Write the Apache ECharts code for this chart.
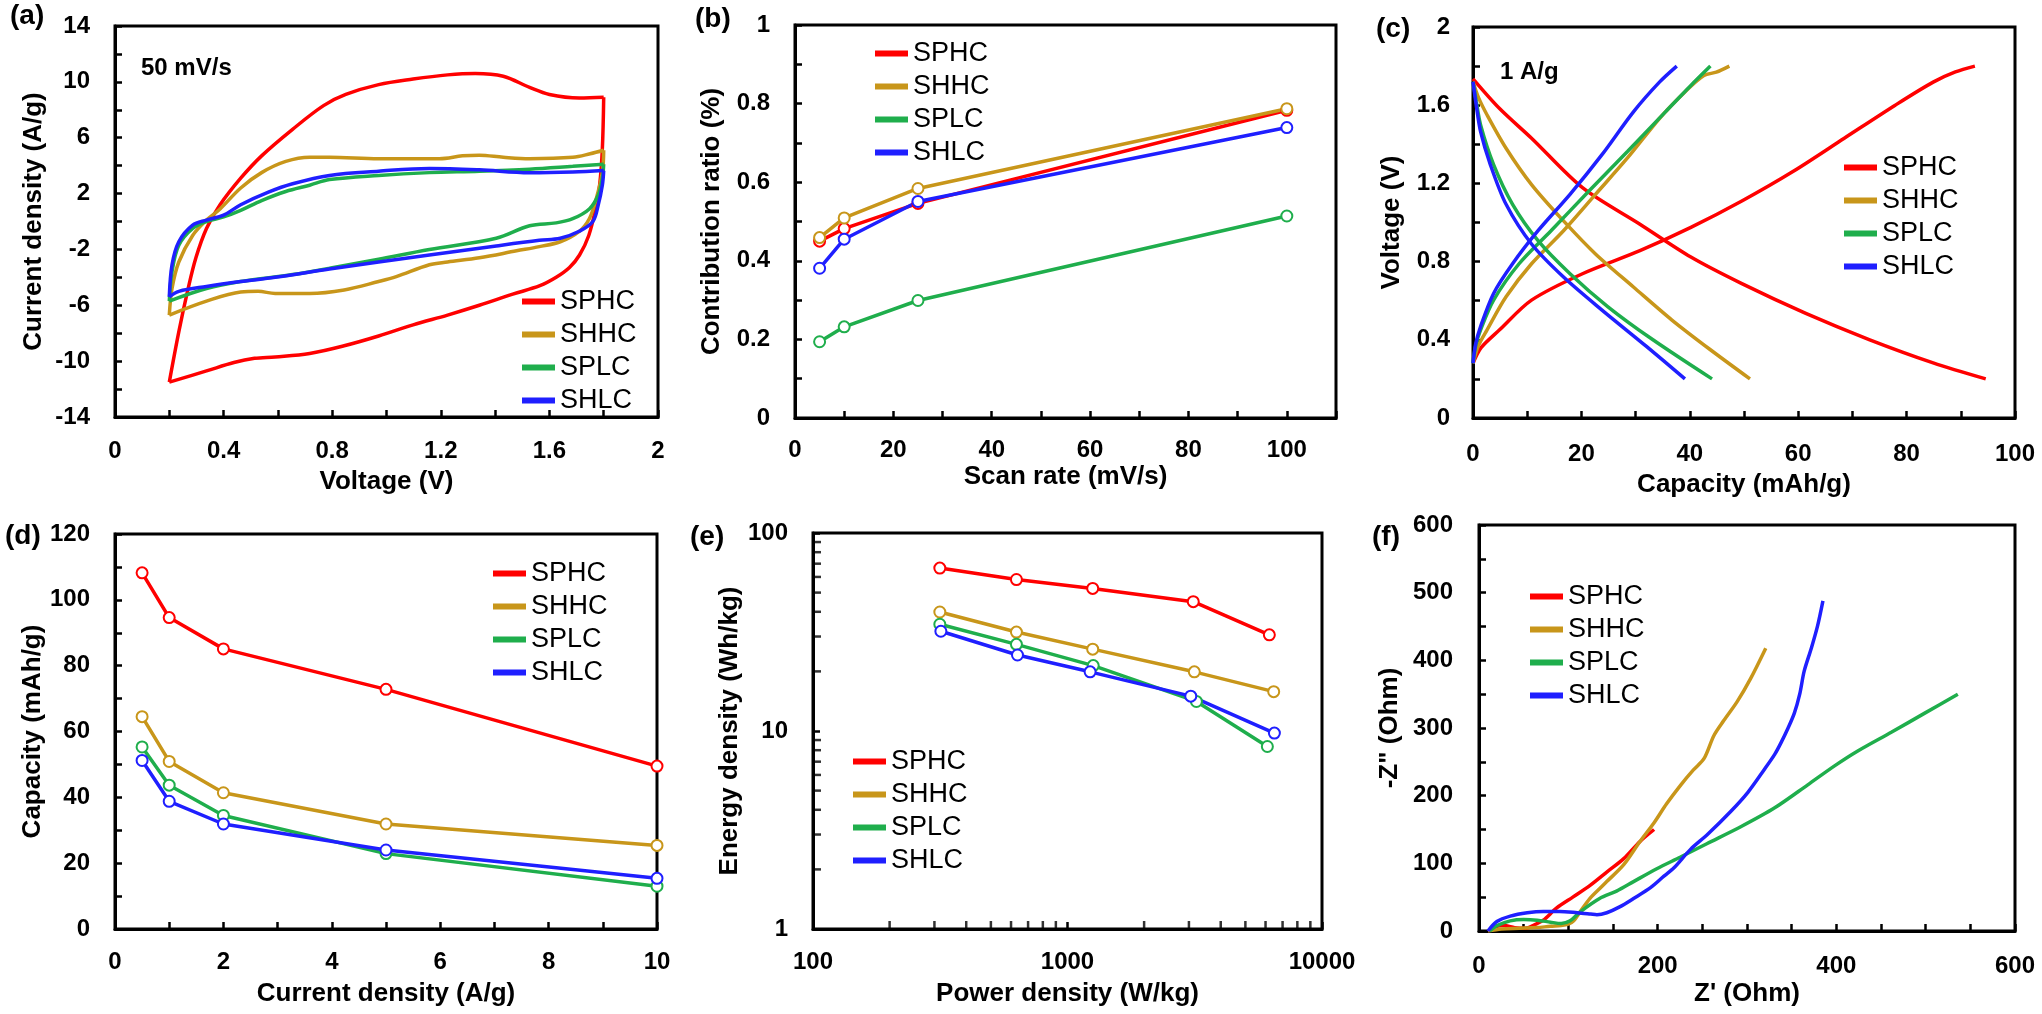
<!DOCTYPE html>
<html lang="en">
<head>
<meta charset="UTF-8">
<title>Carbon electrode comparison</title>
<script src="https://cdn.jsdelivr.net/npm/echarts@6/dist/echarts.min.js"></script>
<style>body{margin:0;background:#fff;}</style>
</head>
<body>
<div id="main" style="width:2042px;height:1014px;"></div>
<script type="text/javascript">
let names = ['SPHC', 'SHHC', 'SPLC', 'SHLC'];
let colors = ['#ff0000', '#c8961a', '#1fae4c', '#1f1fff'];

// (a) CV at 50 mV/s : [voltage V, current density A/g], forward sweep then back
let cvSPHC = [[0.2,-11.5],[0.235,-7.9],[0.267,-5.0],[0.298,-2.6],[0.337,-0.5],[0.387,1.2],[0.463,3.1],[0.54,4.7],[0.654,6.6],[0.768,8.3],[0.85,9.1],[0.971,9.8],[1.098,10.2],[1.225,10.5],[1.327,10.6],[1.43,10.4],[1.527,9.6],[1.6,9.1],[1.71,8.85],[1.8,8.9],
    [1.795,5.2],[1.785,2.6],[1.77,0.9],[1.745,-1.0],[1.711,-2.4],[1.674,-3.3],[1.625,-4.0],[1.565,-4.6],[1.465,-5.2],[1.342,-6.0],[1.225,-6.7],[1.098,-7.4],[0.971,-8.2],[0.844,-8.9],[0.717,-9.45],[0.59,-9.7],[0.514,-9.8],[0.438,-10.1],[0.337,-10.7],[0.2,-11.5]];
let cvSHHC = [[0.2,-6.7],[0.21,-4.8],[0.235,-2.9],[0.286,-1.0],[0.337,0.1],[0.387,0.9],[0.463,2.4],[0.54,3.5],[0.629,4.3],[0.717,4.6],[0.79,4.6],[0.971,4.5],[1.195,4.5],[1.28,4.7],[1.342,4.75],[1.43,4.6],[1.527,4.5],[1.686,4.6],[1.75,4.85],[1.8,5.1],
    [1.795,3.5],[1.772,1.6],[1.747,0.2],[1.71,-0.7],[1.64,-1.45],[1.563,-1.8],[1.479,-2.1],[1.342,-2.6],[1.225,-2.9],[1.158,-3.1],[1.036,-3.95],[0.971,-4.3],[0.844,-4.9],[0.717,-5.15],[0.59,-5.15],[0.527,-5.0],[0.463,-5.05],[0.337,-5.7],[0.2,-6.7]];
let cvSPLC = [[0.2,-5.7],[0.21,-3.6],[0.235,-1.7],[0.286,-0.5],[0.337,0],[0.4,0.33],[0.463,0.8],[0.54,1.5],[0.629,2.15],[0.717,2.6],[0.79,3.0],[0.971,3.3],[1.158,3.5],[1.342,3.6],[1.527,3.75],[1.686,3.95],[1.8,4.1],
    [1.795,3.1],[1.78,1.9],[1.747,0.9],[1.686,0.2],[1.625,-0.1],[1.527,-0.3],[1.404,-1.2],[1.158,-2.0],[0.971,-2.7],[0.79,-3.35],[0.654,-3.8],[0.463,-4.3],[0.337,-4.8],[0.2,-5.7]];
let cvSHLC = [[0.2,-5.4],[0.21,-3.1],[0.235,-1.45],[0.286,-0.26],[0.337,0.1],[0.4,0.45],[0.463,1.2],[0.565,2.1],[0.654,2.7],[0.79,3.3],[0.971,3.6],[1.158,3.8],[1.342,3.7],[1.527,3.5],[1.686,3.55],[1.8,3.65],
    [1.795,2.6],[1.78,1.2],[1.76,0],[1.71,-0.7],[1.64,-1.2],[1.563,-1.35],[1.404,-1.75],[1.158,-2.4],[0.971,-2.9],[0.79,-3.4],[0.59,-4.0],[0.463,-4.3],[0.337,-4.65],[0.235,-5.0],[0.2,-5.4]];

// (b) capacitive contribution ratio vs scan rate
let scanRate = [5, 10, 25, 100];
let ratioSPHC = [0.45, 0.482, 0.546, 0.783];
let ratioSHHC = [0.459, 0.509, 0.584, 0.787];
let ratioSPLC = [0.194, 0.232, 0.299, 0.514];
let ratioSHLC = [0.381, 0.455, 0.551, 0.739];

// (c) charge / discharge at 1 A/g : [capacity mAh/g, voltage V]
let chgSPHC = [[0,0.28],[1.5,0.36],[4.9,0.451],[10.8,0.603],[20.2,0.738],[30.8,0.856],[40.2,0.975],[49.6,1.11],[59.1,1.262],[68.5,1.431],[77.9,1.6],[84.9,1.718],[89,1.77],[92.6,1.8]];
let disSPHC = [[0,1.735],[4.9,1.583],[10.8,1.431],[20.2,1.178],[30.8,0.991],[40.2,0.823],[49.6,0.687],[61.4,0.535],[73.2,0.4],[84.9,0.282],[94.6,0.2]];
let chgSHHC = [[0,0.28],[1,0.37],[2.6,0.451],[6.1,0.62],[10.8,0.789],[16.7,0.958],[22.6,1.144],[28.5,1.33],[34.4,1.532],[39.1,1.668],[42.6,1.752],[44.9,1.769],[47.3,1.8]];
let disSHHC = [[0,1.72],[1,1.64],[2.6,1.55],[6.1,1.38],[10.8,1.194],[16.7,1.008],[22.6,0.839],[29.6,0.67],[36.7,0.501],[43.8,0.349],[51.1,0.2]];
let chgSPLC = [[0,0.28],[0.5,0.37],[1.4,0.451],[3.8,0.603],[8.5,0.789],[14.4,0.958],[21.4,1.161],[28.5,1.363],[35.5,1.566],[40.2,1.701],[43.8,1.8]];
let disSPLC = [[0,1.72],[0.6,1.62],[1.4,1.499],[3.8,1.296],[7.3,1.093],[12,0.907],[17.9,0.738],[24.9,0.569],[33.2,0.4],[44.1,0.2]];
let chgSHLC = [[0,0.28],[0.5,0.38],[1.4,0.468],[3.8,0.637],[7.3,0.789],[12,0.958],[17.9,1.144],[23.8,1.347],[29.6,1.566],[34.4,1.718],[37.6,1.8]];
let disSHLC = [[0,1.72],[0.6,1.6],[1.4,1.465],[3.2,1.296],[6.1,1.093],[10.8,0.89],[16.7,0.721],[23.8,0.552],[32,0.366],[39.1,0.2]];

// (d) rate capability
let currentDensity = [0.5, 1, 2, 5, 10];
let capSPHC = [108.2, 94.6, 85.1, 72.8, 49.5];
let capSHHC = [64.5, 50.9, 41.4, 31.9, 25.4];
let capSPLC = [55.3, 43.7, 34.5, 22.9, 13.0];
let capSHLC = [51.2, 38.8, 31.9, 24.0, 15.4];

// (e) Ragone plot
let powSPHC = [315, 630, 1256, 3120, 6210];
let eneSPHC = [66.5, 58.2, 52.5, 45.0, 30.6];
let powSHHC = [315, 630, 1256, 3150, 6460];
let eneSHHC = [39.9, 31.6, 25.9, 19.9, 15.8];
let powSPLC = [315, 630, 1262, 3210, 6100];
let eneSPLC = [34.6, 27.4, 21.4, 14.1, 8.35];
let powSHLC = [318, 636, 1227, 3050, 6500];
let eneSHLC = [31.9, 24.2, 19.9, 15.0, 9.76];
let logMinorX = [200, 300, 400, 500, 600, 700, 800, 900, 2000, 3000, 4000, 5000, 6000, 7000, 8000, 9000];
let logMinorY = [2, 3, 4, 5, 6, 7, 8, 9, 20, 30, 40, 50, 60, 70, 80, 90];

// (f) Nyquist : [Z', -Z'']
let eisSPHC = [[10,0],[18,6],[28,8],[40,5],[52,4],[62,9],[72,16],[87,34],[105,50],[124,67],[143,87],[162,107],[180,132],[196,150]];
let eisSHHC = [[10,0],[25,3],[45,4],[65,5],[80,7],[92,8],[100,10],[106,15],[113,28],[124,48],[136,64],[143,73],[162,98],[180,132],[196,160],[210,188],[226,216],[240,238],[252,255],[263,289],[274,311],[289,339],[304,373],[321,418]];
let eisSPLC = [[12,0],[20,8],[35,15],[50,17],[65,16],[80,13],[92,11],[102,15],[113,28],[135,48],[154,59],[173,73],[199,92],[225,109],[255,129],[293,154],[331,182],[368,216],[398,244],[424,266],[462,294],[499,322],[536,350]];
let eisSHLC = [[10,0],[20,14],[35,22],[54,27],[72,29],[90,29],[110,27],[125,25],[132,24],[143,27],[158,36],[173,48],[192,64],[207,81],[218,93],[237,121],[256,143],[282,177],[301,205],[319,238],[331,261],[338,278],[346,300],[353,322],[359,350],[364,384],[372,418],[379,451],[385,488]];

let fontFam = '"Liberation Sans", Arial, sans-serif';

function tickFmt(step, max) {
    return function (v) {
        let k = Math.round(v / step);
        if (Math.abs(v - k * step) > step * 1e-6) return '';
        if (max !== undefined && v > max + 1e-9) return '';
        return String(parseFloat(v.toFixed(2)));
    };
}

function makeAxis(type, gi, min, max, interval, step, name, nameGap, margin, labelMax) {
    let ax = {
        type: type, gridIndex: gi, min: min, max: max,
        name: name, nameLocation: 'middle', nameGap: nameGap,
        nameTextStyle: {color: '#000', fontSize: 26, fontWeight: 'bold', fontFamily: fontFam},
        axisLine: {show: true, onZero: false, lineStyle: {color: '#000', width: 3}},
        axisTick: {show: true, inside: true, length: 7, lineStyle: {color: '#000', width: 2.5}},
        axisLabel: {color: '#000', fontSize: 24, fontWeight: 'bold', fontFamily: fontFam, margin: margin},
        splitLine: {show: false},
        minorTick: {show: false}
    };
    if (type === 'value') {
        ax.interval = interval;
        ax.axisLabel.formatter = tickFmt(step, labelMax);
    } else {
        ax.logBase = 10;
        // plain decade labels, no thousands separator
        ax.axisLabel.formatter = function (v) { return String(Math.round(v)); };
    }
    return ax;
}

function legendAt(left, top) {
    return {
        orient: 'vertical', left: left, top: top, padding: 0,
        itemWidth: 33, itemHeight: 6, itemGap: 6, icon: 'rect',
        textStyle: {fontSize: 27, color: '#000', fontFamily: fontFam},
        data: names.map((n, i) => ({name: n, itemStyle: {color: colors[i], borderWidth: 0}}))
    };
}

function curve(name, gi, data, smooth) {
    let c = colors[names.indexOf(name)];
    return {
        name: name, type: 'line', xAxisIndex: gi, yAxisIndex: gi, data: data,
        showSymbol: false, smooth: smooth, color: c,
        lineStyle: {color: c, width: 3.5}, animation: false
    };
}

function dots(name, gi, data) {
    let c = colors[names.indexOf(name)];
    return {
        name: name, type: 'line', xAxisIndex: gi, yAxisIndex: gi, data: data,
        symbol: 'circle', symbolSize: 11, showSymbol: true, color: c,
        lineStyle: {color: c, width: 3.5},
        itemStyle: {color: '#fff', borderColor: c, borderWidth: 2},
        animation: false
    };
}

// split a CV loop at the vertex voltage so each branch is smoothed on its own
function splitLoop(data) {
    let k = 0;
    data.forEach((p, i) => { if (p[0] > data[k][0]) k = i; });
    return [data.slice(0, k + 1), data.slice(k)];
}

function pair(xs, ys) {
    return xs.map((x, i) => [x, ys[i]]);
}

let gridBox = {show: true, borderColor: '#000', borderWidth: 3, backgroundColor: 'transparent'};
let grids = [
    Object.assign({left: 115, top: 26, width: 543, height: 391}, gridBox),
    Object.assign({left: 795, top: 25, width: 541, height: 393}, gridBox),
    Object.assign({left: 1473, top: 27, width: 542, height: 391}, gridBox),
    Object.assign({left: 115, top: 534, width: 542, height: 395}, gridBox),
    Object.assign({left: 813, top: 533, width: 509, height: 396}, gridBox),
    Object.assign({left: 1479, top: 525, width: 536, height: 406}, gridBox)
];

let xAxes = [
    makeAxis('value', 0, 0, 2, 0.2, 0.4, 'Voltage (V)', 52, 22),
    makeAxis('value', 1, 0, 110, 10, 20, 'Scan rate (mV/s)', 46, 20, 100),
    makeAxis('value', 2, 0, 100, 10, 20, 'Capacity (mAh/g)', 54, 24),
    makeAxis('value', 3, 0, 10, 1, 2, 'Current density (A/g)', 52, 21),
    makeAxis('log', 4, 100, 10000, null, null, 'Power density (W/kg)', 52, 21),
    makeAxis('value', 5, 0, 600, 50, 200, "Z' (Ohm)", 50, 23)
];
let yAxes = [
    makeAxis('value', 0, -14, 14, 2, 4, 'Current density (A/g)', 68, 25),
    makeAxis('value', 1, 0, 1, 0.1, 0.2, 'Contribution ratio (%)', 70, 25),
    makeAxis('value', 2, 0, 2, 0.2, 0.4, 'Voltage (V)', 68, 23),
    makeAxis('value', 3, 0, 120, 10, 20, 'Capacity (mAh/g)', 68, 25),
    makeAxis('log', 4, 1, 100, null, null, 'Energy density (Wh/kg)', 70, 25),
    makeAxis('value', 5, 0, 600, 50, 100, '-Z" (Ohm)', 76, 26)
];
// (a) y labels start at -14 and step by 4
yAxes[0].axisLabel.formatter = function (v) {
    return (Math.round(v) + 14) % 4 === 0 ? String(Math.round(v)) : '';
};

let series = [];
let cvData = [cvSPHC, cvSHHC, cvSPLC, cvSHLC];
names.forEach((n, i) => {
    splitLoop(cvData[i]).forEach(branch => series.push(curve(n, 0, branch, 0.35)));
});
let ratios = [ratioSPHC, ratioSHHC, ratioSPLC, ratioSHLC];
names.forEach((n, i) => series.push(dots(n, 1, pair(scanRate, ratios[i]))));
let chg = [chgSPHC, chgSHHC, chgSPLC, chgSHLC];
let dis = [disSPHC, disSHHC, disSPLC, disSHLC];
names.forEach((n, i) => {
    series.push(curve(n, 2, chg[i], 0.3));
    series.push(curve(n, 2, dis[i], 0.3));
});
let caps = [capSPHC, capSHHC, capSPLC, capSHLC];
names.forEach((n, i) => series.push(dots(n, 3, pair(currentDensity, caps[i]))));
let pows = [powSPHC, powSHHC, powSPLC, powSHLC];
let enes = [eneSPHC, eneSHHC, eneSPLC, eneSHLC];
names.forEach((n, i) => series.push(dots(n, 4, pair(pows[i], enes[i]))));
// log minor ticks for (e), placed through the log axes
series.push({
    name: 'minorX', type: 'scatter', xAxisIndex: 4, yAxisIndex: 4,
    data: logMinorX.map(v => [v, 1]), symbol: 'rect', symbolSize: [2.5, 8], symbolOffset: [0, -4],
    itemStyle: {color: '#000'}, silent: true, clip: false, z: 5, animation: false
});
series.push({
    name: 'minorY', type: 'scatter', xAxisIndex: 4, yAxisIndex: 4,
    data: logMinorY.map(v => [100, v]), symbol: 'rect', symbolSize: [8, 2.5], symbolOffset: [4, 0],
    itemStyle: {color: '#000'}, silent: true, clip: false, z: 5, animation: false
});
let eis = [eisSPHC, eisSHHC, eisSPLC, eisSHLC];
names.forEach((n, i) => series.push(curve(n, 5, eis[i], 0.3)));

let labelStyle = {fontSize: 28, fontWeight: 'bold', color: '#000', fontFamily: fontFam};
let noteStyle = {fontSize: 24, fontWeight: 'bold', color: '#000', fontFamily: fontFam};
let titles = [
    {text: '(a)', left: 10, top: 2, padding: 0, textStyle: labelStyle},
    {text: '(b)', left: 695, top: 5, padding: 0, textStyle: labelStyle},
    {text: '(c)', left: 1376, top: 15, padding: 0, textStyle: labelStyle},
    {text: '(d)', left: 5, top: 522, padding: 0, textStyle: labelStyle},
    {text: '(e)', left: 690, top: 523, padding: 0, textStyle: labelStyle},
    {text: '(f)', left: 1372, top: 523, padding: 0, textStyle: labelStyle},
    {text: '50 mV/s', left: 141, top: 56, padding: 0, textStyle: noteStyle},
    {text: '1 A/g', left: 1500, top: 60, padding: 0, textStyle: noteStyle}
];

let myChart = echarts.init(document.getElementById('main'));
let option = {
    animation: false,
    backgroundColor: '#fff',
    title: titles,
    legend: [
        legendAt(522, 288),
        legendAt(875, 40),
        legendAt(1844, 154),
        legendAt(493, 560),
        legendAt(853, 748),
        legendAt(1530, 583)
    ],
    grid: grids,
    xAxis: xAxes,
    yAxis: yAxes,
    series: series
};
myChart.setOption(option);
</script>
</body>
</html>
